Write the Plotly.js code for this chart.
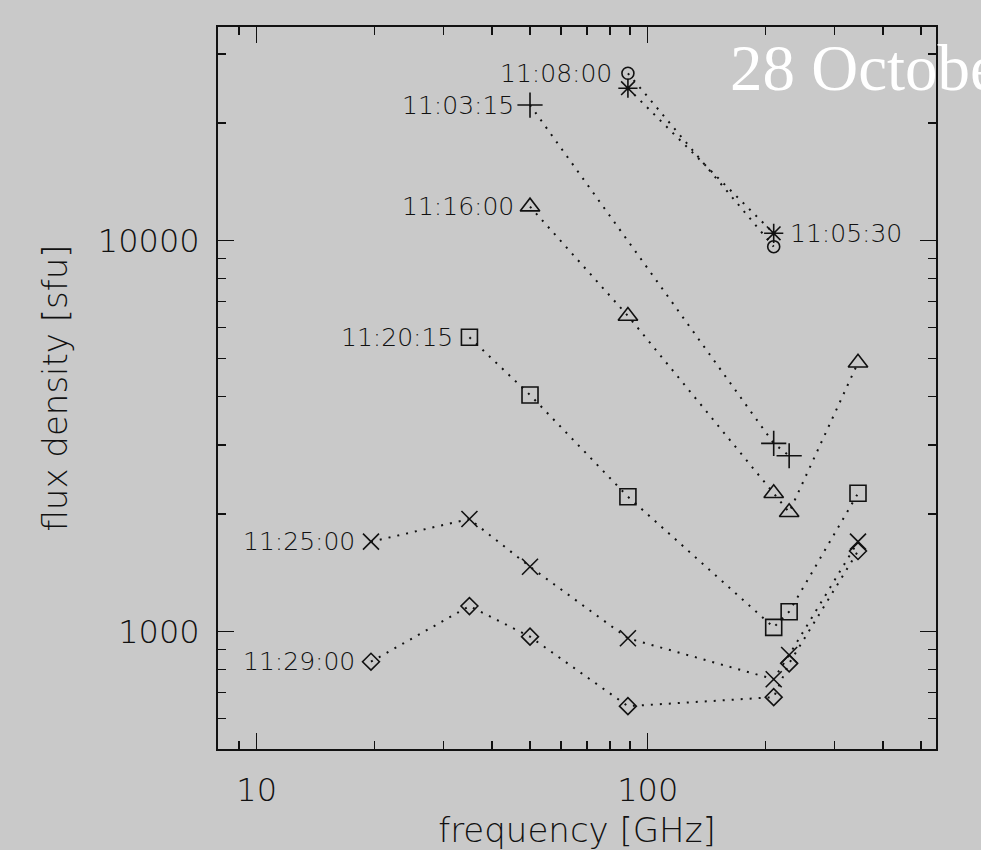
<!DOCTYPE html>
<html><head><meta charset="utf-8">
<script src="https://cdn.plot.ly/plotly-3.0.1.min.js"></script>
<style>html,body{margin:0;padding:0;background:#c9c9c9;overflow:hidden}</style>
</head><body><div id="chart" style="width:981px;height:850px"></div>
<script>
// ---- data ----
const seriesNames = ['11:03:15', '11:05:30', '11:08:00', '11:16:00', '11:20:15', '11:25:00', '11:29:00'];
const freq_110315 = [50, 210, 230];
const flux_110315 = [22230, 3032, 2818];
const freq_110530 = [89, 210];
const flux_110530 = [24540, 10445];
const freq_110800 = [89, 210];
const flux_110800 = [26800, 9653];
const freq_111600 = [50, 89, 210, 230, 345];
const flux_111600 = [12220, 6420, 2259, 2020, 4875];
const freq_112015 = [35, 50, 89, 210, 230, 345];
const flux_112015 = [5662, 4031, 2214, 1026, 1125, 2259];
const freq_112500 = [19.6, 35, 50, 89, 210, 230, 345];
const flux_112500 = [1699, 1942, 1466, 962, 756, 872, 1699];
const freq_112900 = [19.6, 35, 50, 89, 210, 230, 345];
const flux_112900 = [838, 1163, 971, 645, 680, 830, 1608];
const xTickVals = [10, 100];
const xTickText = ['10', '100'];
const xMinorVals = [9, 20, 30, 40, 50, 60, 70, 80, 90, 200, 300, 400, 500];
const yTickVals = [1000, 10000];
const yTickText = ['1000', '10000'];
const yMinorVals = [600, 700, 800, 900, 2000, 3000, 4000, 5000, 6000, 7000, 8000, 9000, 20000, 30000];
const titleText = '28 October 2003';
const xTitle = 'frequency [GHz]';
const yTitle = 'flux density [sfu]';

// ---- styles ----
const xs = [freq_110315, freq_110530, freq_110800, freq_111600, freq_112015, freq_112500, freq_112900];
const ys = [flux_110315, flux_110530, flux_110800, flux_111600, flux_112015, flux_112500, flux_112900];
const symbols = ['cross-thin-open', 'asterisk-open', 'circle-open', 'triangle-up-open', 'square-open', 'x-thin-open', 'diamond-open'];
const sizes = [18, 16, 12, 17, 16, 16, 13];
const labelSide = ['left', 'right', 'left', 'left', 'left', 'left', 'left'];
const ink = '#111111';
const bg = '#c9c9c9';
const sans = 'DejaVu Sans, sans-serif';
const fw = 200;

const traces = seriesNames.map((name, i) => ({
  type: 'scatter', mode: 'lines+markers', name: name,
  x: xs[i], y: ys[i],
  line: {color: ink, width: 2, dash: '2px,7px'},
  marker: {symbol: symbols[i], size: sizes[i], color: ink, line: {color: ink, width: 1.6}},
  showlegend: false
}));

const annotations = seriesNames.map((name, i) => {
  const left = labelSide[i] === 'left';
  const k = left ? 0 : xs[i].length - 1;
  return {
    xref: 'x', yref: 'y',
    x: Math.log10(xs[i][k]), y: Math.log10(ys[i][k]),
    text: name, showarrow: false,
    xanchor: left ? 'right' : 'left', yanchor: 'middle',
    xshift: left ? -14 : 14,
    font: {family: sans, size: 25, color: ink, weight: fw}
  };
});
annotations.push({
  xref: 'paper', yref: 'paper', x: 0.711, y: 0.943,
  xanchor: 'left', yanchor: 'middle', showarrow: false,
  text: titleText,
  font: {family: 'Liberation Serif, Times New Roman, serif', size: 65, color: '#ffffff'}
});

const axisCommon = {
  type: 'log', showgrid: false, zeroline: false,
  showline: true, linecolor: ink, linewidth: 2, mirror: 'ticks',
  ticks: 'inside', ticklen: 16, tickwidth: 1.5, tickcolor: ink,
  tickfont: {family: sans, size: 32, color: ink, weight: fw},
  automargin: false, fixedrange: true
};

const layout = {
  width: 981, height: 850,
  margin: {l: 218, r: 45, t: 27, b: 101, pad: 0},
  paper_bgcolor: bg, plot_bgcolor: bg,
  xaxis: Object.assign({}, axisCommon, {
    range: [0.9010, 2.7373],
    tickmode: 'array', tickvals: xTickVals, ticktext: xTickText,
    ticklabelstandoff: 12,
    minor: {tickmode: 'array', tickvals: xMinorVals, ticks: 'inside', ticklen: 8, tickwidth: 1.5, tickcolor: ink, showgrid: false},
    title: {text: xTitle, font: {family: sans, size: 34, color: ink, weight: fw}, standoff: 10}
  }),
  yaxis: Object.assign({}, axisCommon, {
    range: [2.7000, 4.5465],
    tickmode: 'array', tickvals: yTickVals, ticktext: yTickText,
    ticklabelstandoff: 10,
    minor: {tickmode: 'array', tickvals: yMinorVals, ticks: 'inside', ticklen: 8, tickwidth: 1.5, tickcolor: ink, showgrid: false},
    title: {text: yTitle, font: {family: sans, size: 34, color: ink, weight: fw}, standoff: 20}
  }),
  annotations: annotations
};

Plotly.newPlot('chart', traces, layout, {staticPlot: true, displayModeBar: false});
</script>
</body></html>
